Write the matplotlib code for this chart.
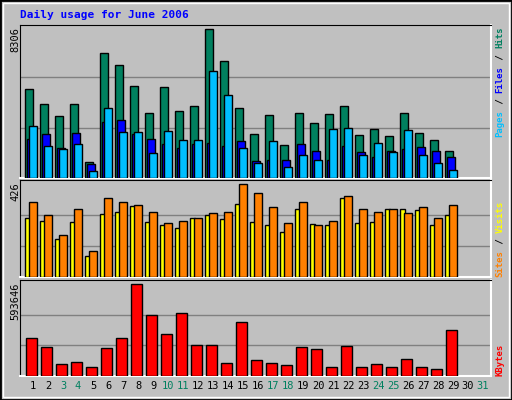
import matplotlib.pyplot as plt
import numpy as np
from matplotlib.patches import Rectangle

days = np.arange(1, 30)
hits = [4970, 4130, 3450, 4130, 920, 6990, 6310, 5130, 3660, 5070, 3770, 4000, 8306,
        6540, 3890, 2440, 3510, 1830, 3610, 3050, 3570, 4000, 2390, 2760, 2330, 3610,
        2500, 2110, 1490]
files = [2170, 2440, 1700, 2500, 810, 3150, 3250, 2440, 2160, 1880, 1650, 1880, 1940,
         1770, 2050, 960, 1020, 1020, 1880, 1490, 1020, 1770, 1430, 1200, 1490, 1600,
         1710, 1490, 1200]
pages = [2890, 1770, 1600, 1880, 410, 3890, 2560, 2560, 1370, 2610, 2110, 2110, 5990,
         4640, 1660, 850, 2050, 640, 1260, 980, 2730, 2780, 1260, 1940, 1430, 2670,
         1260, 850, 470]
sites = [272, 258, 175, 254, 98, 288, 297, 325, 251, 237, 223, 269, 283, 265, 335,
         254, 237, 205, 311, 243, 237, 362, 246, 254, 314, 311, 306, 237, 283]
visits = [346, 286, 195, 311, 121, 362, 346, 332, 300, 249, 259, 273, 292, 297, 426,
          385, 322, 249, 343, 240, 259, 372, 311, 297, 311, 292, 322, 269, 332]
kbytes = [249000, 190000, 80000, 93000, 61000, 184000, 243000, 593646, 398000, 269000,
          405000, 204000, 204000, 87000, 347000, 106000, 87000, 74000, 190000, 178000,
          61000, 197000, 61000, 80000, 61000, 113000, 61000, 48000, 295000]
weekend = [3, 4, 10, 11, 17, 18, 24, 25, 31]

gray = '#C0C0C0'
fig = plt.figure(figsize=(5.12, 4.0), dpi=100)
fig.patch.set_facecolor(gray)
fig.patches.append(Rectangle((0, 0), 1, 1, transform=fig.transFigure, fill=False,
                             edgecolor='black', linewidth=2))
fig.patches.append(Rectangle((3/512, 3/400), 506/512, 394/400, transform=fig.transFigure,
                             fill=False, edgecolor='white', linewidth=1))
mono = 'DejaVu Sans Mono'
fig.text(20/512, 1-15/400, 'Daily usage for June 2006', color='#0000FF', family=mono,
         fontsize=8, fontweight='bold', va='center')

L, W = 20/512, 471/512
panels = [(0.555, 0.3825), (0.3075, 0.2425), (0.06, 0.24)]
axes = [fig.add_axes([L, b, W, h]) for b, h in panels]
for ax in axes:
    ax.set_facecolor(gray)
    ax.set_xlim(0.5, 0.5 + 471/15)
    ax.set_xticks([])
    ax.set_yticks([])
    for s in ['top', 'left']:
        ax.spines[s].set_color('black')
    for s in ['bottom', 'right']:
        ax.spines[s].set_color('white')
        ax.spines[s].set_linewidth(1.5)

kw = dict(align='edge', edgecolor='black', linewidth=1, zorder=3)
a1, a2, a3 = axes
a1.set_ylim(0, 8306 * 455/442)
for g in (8306 * 0.337, 8306 * 0.68):
    a1.axhline(g, color='#808080', linewidth=1, zorder=1)
a1.bar(days - 0.15, hits, 0.5, color='#00805F', **kw)
a1.bar(days - 0.03, files, 0.5, color='#0000FF', **kw)
a1.bar(days + 0.12, pages, 0.5, color='#00BFFF', **kw)

a2.set_ylim(0, 426 * 290/277)
for g in (426/3, 426*2/3):
    a2.axhline(g, color='#808080', linewidth=1, zorder=1)
a2.bar(days - 0.15, sites, 0.32, color='#FFFF00', **kw)
a2.bar(days + 0.12, visits, 0.5, color='#FF8000', **kw)

a3.set_ylim(0, 593646 * 287/274)
for g in (593646/3, 593646*2/3):
    a3.axhline(g, color='#808080', linewidth=1, zorder=1)
a3.bar(days - 0.08, kbytes, 0.69, color='#FF0000', **kw)

for d in range(1, 32):
    a3.text(d + 0.37, -0.1, str(d), transform=a3.get_xaxis_transform(), ha='center',
            va='center', family=mono, fontsize=7.5,
            color='#00805F' if d in weekend else 'black')

# max labels on the left
for lab, ytop in [('8306', 27), ('426', 182), ('593646', 283)]:
    fig.text(15/512, 1-ytop/400, lab, rotation=90, ha='center', va='top',
             family=mono, fontsize=7.5)

# right-side legends, bottom to top
fs = 6.5
cw = fs * 100/72 * 0.602 + 0.1
def stack(parts, ybottom):
    y = ybottom
    for txt, col in parts:
        fig.text(500/512, 1-y/400, txt, rotation=90, ha='center', va='bottom',
                 color=col, family=mono, fontsize=fs, fontweight='bold')
        y -= cw * len(txt)

stack([('Pages', '#00BFFF'), (' / ', 'black'), ('Files', '#0000FF'), (' / ', 'black'),
       ('Hits', '#00805F')], 137)
stack([('Sites', '#FF8000'), (' / ', 'black'), ('Visits', '#FFFF00')], 277)
stack([('KBytes', '#FF0000')], 376)

fig.savefig('out.png', dpi=100, facecolor=gray)
